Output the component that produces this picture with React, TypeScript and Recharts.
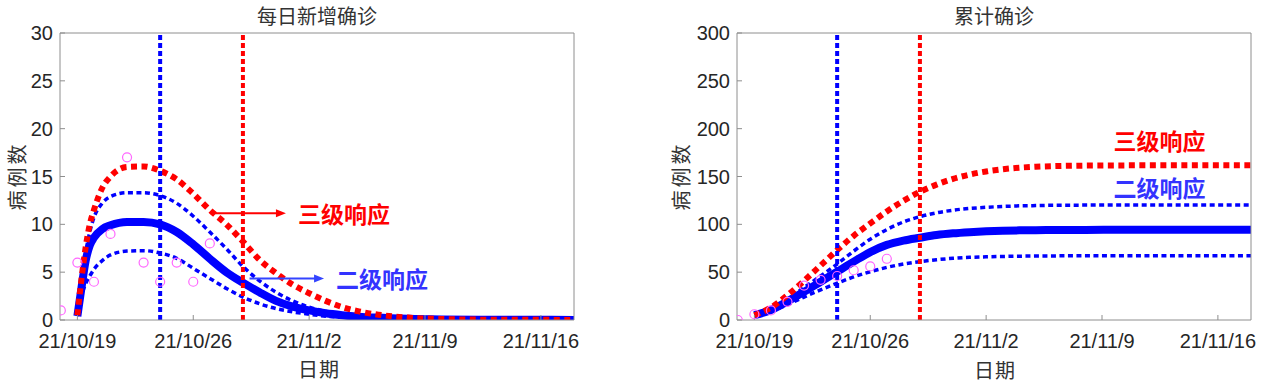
import React from 'react';
import {
  ComposedChart,
  Line,
  Scatter,
  XAxis,
  YAxis,
  ReferenceLine,
  ReferenceDot,
} from 'recharts';

// ---------- data ----------
const tickDays = [0, 7, 14, 21, 28];
const tickLabels = ['21/10/19', '21/10/26', '21/11/2', '21/11/9', '21/11/16'];
const dailyTicks = [0, 5, 10, 15, 20, 25, 30];
const cumTicks = [0, 50, 100, 150, 200, 250, 300];

// day index 0 = 2021/10/19
const obsDays = [-1, 0, 1, 2, 3, 4, 5, 6, 7, 8];
const obsDaily = [1, 6, 4, 9, 17, 6, 4, 6, 4, 8];
const obsCum = [0, 6, 10, 19, 36, 42, 46, 52, 56, 64];

const fitDays = [0, 0.25, 0.5, 0.75, 1, 1.5, 2, 3, 4, 5, 6, 7, 8, 9, 10, 11, 12, 13, 14, 15, 16, 17, 18, 20, 22, 25, 30];
const dailyFit = [0.4, 3.4, 6.2, 7.8, 8.6, 9.5, 9.9, 10.25, 10.25, 10.0, 9.2, 7.9, 6.4, 5.0, 3.9, 2.9, 2.0, 1.4, 1.0, 0.7, 0.5, 0.35, 0.25, 0.12, 0.06, 0.03, 0.01];
const dailyUpper = [0.5, 3.6, 7.0, 9.2, 10.7, 12.2, 12.9, 13.3, 13.3, 13.0, 12.2, 10.85, 9.2, 7.45, 5.6, 4.1, 2.9, 2.0, 1.35, 0.9, 0.6, 0.4, 0.27, 0.12, 0.05, 0.02, 0.01];
const dailyLower = [0.4, 2.5, 3.8, 4.6, 5.3, 6.2, 6.8, 7.2, 7.25, 7.0, 6.45, 5.4, 4.35, 3.3, 2.4, 1.7, 1.2, 0.85, 0.6, 0.4, 0.28, 0.2, 0.14, 0.07, 0.03, 0.01, 0];
const dailyLevel3 = [0.5, 4.3, 7.6, 10.0, 11.5, 13.8, 15.0, 16.0, 16.05, 15.6, 14.7, 13.2, 11.5, 10.0, 8.2, 6.3, 4.9, 3.7, 2.8, 2.0, 1.35, 0.9, 0.6, 0.25, 0.1, 0.03, 0.01];

const cumDays = [0, 1, 2, 3, 4, 5, 6, 7, 8, 9, 10, 11, 12, 13, 14, 15, 16, 17, 18, 20, 22, 25, 30];
const cumFit = [5, 10.5, 19.5, 29.5, 40, 50.5, 61, 71, 78.5, 83, 86, 88.8, 90.6, 91.8, 92.7, 93.3, 93.7, 93.9, 94, 94.2, 94.3, 94.3, 94.3];
const cumUpper = [5, 11.5, 22, 34, 46, 58.5, 72, 84.5, 94.5, 102.5, 108, 112, 114.8, 116.6, 117.8, 118.7, 119.3, 119.6, 119.9, 120.1, 120.3, 120.3, 120.3];
const cumLower = [5, 9, 16, 24, 31.5, 38.5, 45, 50.5, 55, 58.5, 61, 63, 64.5, 65.5, 66, 66.4, 66.7, 66.9, 67, 67.1, 67.2, 67.2, 67.2];
const cumLevel3 = [5, 13, 26, 41, 57, 73, 88, 101, 113.5, 124.5, 134, 141.5, 147.5, 152, 155.3, 157.6, 159.2, 160.2, 160.8, 161.4, 161.6, 161.7, 161.7];

// response start days (二级 = day 5, 三级 = day 10)
const level2Day = 5;
const level3Day = 10;

// ---------- helpers ----------
const xy = (xs: number[], ys: number[]) => xs.map((x, i) => ({ x, y: ys[i] }));

const AXIS = '#8e8e8e';
const TXT = '#262626';
const CJK = "'Noto Sans CJK SC', 'Noto Sans', sans-serif";
const BLUE = '#0000ff';
const RED = '#ff0000';
const MAG = '#ff66ff';
const X_DOMAIN: [number, number] = [-1.05, 30];

const tickStyle = { fontFamily: "'Liberation Sans', Arial, sans-serif", fontSize: 20, fill: TXT };
const fmtX = (v: number) => tickLabels[tickDays.indexOf(v)] ?? '';

const circleShape = (p: any) => (
  <circle cx={p.cx} cy={p.cy} r={4.5} fill="none" stroke={MAG} strokeWidth={1.2} />
);

const arrowShape = (color: string, text: string, textColor: string) => (p: any) => {
  const { x1, y1, x2, y2 } = p;
  return (
    <g>
      <line x1={x1} y1={y1} x2={x2 - 8} y2={y2} stroke={color} strokeWidth={2} />
      <polygon points={`${x2},${y2} ${x2 - 10},${y2 - 4} ${x2 - 10},${y2 + 4}`} fill={color} />
      <text
        x={x2 + 12}
        y={y2}
        dominantBaseline="central"
        fill={textColor}
        fontFamily={CJK}
        fontWeight={700}
        fontSize={23}
      >
        {text}
      </text>
    </g>
  );
};

const textShape = (text: string, color: string) => (p: any) => (
  <text
    x={p.cx}
    y={p.cy}
    dominantBaseline="central"
    fill={color}
    fontFamily={CJK}
    fontWeight={700}
    fontSize={23}
  >
    {text}
  </text>
);

type PanelProps = {
  left: number;
  width: number;
  yWidth: number;
  rightMargin: number;
  yMax: number;
  yTicks: number[];
  obs: number[];
  fit: number[];
  upper: number[];
  lower: number[];
  level3: number[];
  days: number[];
  annotations: React.ReactNode;
};

function Panel(props: PanelProps) {
  const { left, width, yWidth, rightMargin, yMax, yTicks, obs, fit, upper, lower, level3, days, annotations } = props;
  return (
    <div style={{ position: 'absolute', left, top: 0 }}>
      <ComposedChart
        width={width}
        height={383}
        margin={{ top: 32, right: rightMargin, bottom: 33, left: 0 }}
      >
        <XAxis
          dataKey="x"
          type="number"
          domain={X_DOMAIN}
          ticks={tickDays}
          interval={0}
          tickFormatter={fmtX}
          tickSize={-5}
          tickMargin={19}
          height={30}
          stroke={AXIS}
          tick={tickStyle}
          allowDataOverflow
        />
        <XAxis
          xAxisId="top"
          orientation="top"
          type="number"
          domain={X_DOMAIN}
          ticks={tickDays}
          interval={0}
          tick={false}
          tickSize={-5}
          height={1}
          stroke={AXIS}
          allowDataOverflow
        />
        <YAxis
          type="number"
          domain={[0, yMax]}
          ticks={yTicks}
          interval={0}
          tickSize={-5}
          tickMargin={12}
          width={yWidth}
          stroke={AXIS}
          tick={tickStyle}
          allowDataOverflow
        />
        <YAxis
          yAxisId="right"
          orientation="right"
          type="number"
          domain={[0, yMax]}
          ticks={yTicks}
          interval={0}
          tick={false}
          tickSize={-5}
          width={1}
          stroke={AXIS}
          allowDataOverflow
        />
        <Line data={xy(days, fit)} dataKey="y" type="monotone" stroke={BLUE} strokeWidth={8} dot={false} isAnimationActive={false} />
        <Line data={xy(days, upper)} dataKey="y" type="monotone" stroke={BLUE} strokeWidth={3.5} strokeDasharray="5 3.5" dot={false} isAnimationActive={false} />
        <Line data={xy(days, lower)} dataKey="y" type="monotone" stroke={BLUE} strokeWidth={3.5} strokeDasharray="5 3.5" dot={false} isAnimationActive={false} />
        <Line data={xy(days, level3)} dataKey="y" type="monotone" stroke={RED} strokeWidth={6} strokeDasharray="6 4.5" dot={false} isAnimationActive={false} />
        <ReferenceLine x={level2Day} stroke={BLUE} strokeWidth={4} strokeDasharray="5 3" />
        <ReferenceLine x={level3Day} stroke={RED} strokeWidth={4} strokeDasharray="5 3" />
        <Scatter data={xy(obsDays, obs)} dataKey="y" shape={circleShape} isAnimationActive={false} />
        {annotations}
      </ComposedChart>
    </div>
  );
}

const label = (text: string, cx: number, cy: number, rotate = false, spacing = 0): React.ReactNode => (
  <div
    style={{
      position: 'absolute',
      left: cx,
      top: cy,
      transform: `translate(-50%, -50%)${rotate ? ' rotate(-90deg)' : ''}`,
      fontFamily: CJK,
      fontSize: 20,
      color: '#333',
      lineHeight: 1,
      letterSpacing: spacing,
      whiteSpace: 'nowrap',
    }}
  >
    {text}
  </div>
);

export default function App() {
  return (
    <div style={{ position: 'absolute', left: 0, top: 0, width: 1261, height: 383, background: '#fff', overflow: 'hidden' }}>
      <Panel
        left={0}
        width={630}
        yWidth={60}
        rightMargin={55}
        yMax={30}
        yTicks={dailyTicks}
        obs={obsDaily}
        fit={dailyFit}
        upper={dailyUpper}
        lower={dailyLower}
        level3={dailyLevel3}
        days={fitDays}
        annotations={[
          <ReferenceLine
            key="a3"
            segment={[{ x: 8.1, y: 11.15 }, { x: 12.6, y: 11.15 }]}
            shape={arrowShape(RED, '三级响应', RED)}
          />,
          <ReferenceLine
            key="a2"
            segment={[{ x: 10.4, y: 4.35 }, { x: 14.9, y: 4.35 }]}
            shape={arrowShape('#3344ff', '二级响应', '#3333ff')}
          />,
        ]}
      />
      <Panel
        left={640}
        width={621}
        yWidth={97}
        rightMargin={9}
        yMax={300}
        yTicks={cumTicks}
        obs={obsCum}
        fit={cumFit}
        upper={cumUpper}
        lower={cumLower}
        level3={cumLevel3}
        days={cumDays}
        annotations={[
          <ReferenceDot key="t3" x={21.7} y={188} r={0} shape={textShape('三级响应', RED)} />,
          <ReferenceDot key="t2" x={21.7} y={139} r={0} shape={textShape('二级响应', '#3333ff')} />,
        ]}
      />
      {label('每日新增确诊', 317, 16)}
      {label('累计确诊', 994, 16)}
      {label('病例数', 17, 176, true, 3)}
      {label('病例数', 681, 176, true, 3)}
      {label('日期', 319, 369, false, 1)}
      {label('日期', 995, 370, false, 1)}
    </div>
  );
}
